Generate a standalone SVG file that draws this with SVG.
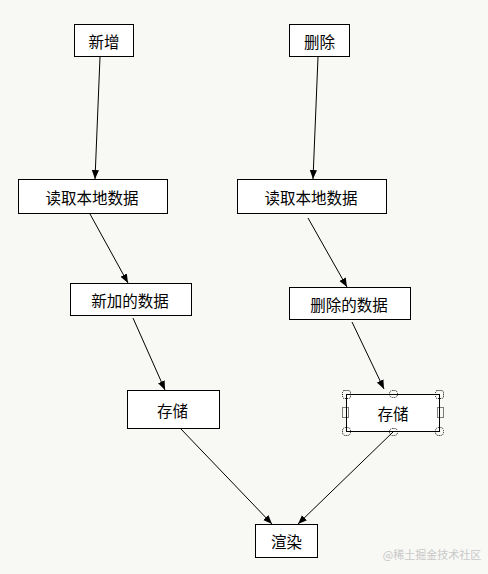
<svg xmlns="http://www.w3.org/2000/svg" width="488" height="574" viewBox="0 0 488 574">
<style>
.n rect{fill:#fff;stroke:#000;stroke-width:1}
.n text{font-family:"Noto Sans CJK SC","Noto Sans",sans-serif;font-size:15.5px;fill:#000;text-anchor:middle;dominant-baseline:central}
.c line{stroke:#000;stroke-width:1;marker-end:url(#a)}
.h rect{fill:none;stroke:#000;stroke-width:1;stroke-dasharray:1 1}
</style>
<defs>
<marker id="a" viewBox="0 0 10 10" refX="10" refY="5" markerWidth="9" markerHeight="9" markerUnits="userSpaceOnUse" orient="auto"><path d="M0,1 L10,5 L0,9 z" fill="#000"/></marker>
</defs>
<rect width="488" height="574" fill="#f8f8f5"/>
<g class="c">
<line x1="100" y1="57" x2="95" y2="179"/>
<line x1="318" y1="57" x2="313" y2="179"/>
<line x1="90" y1="214" x2="128" y2="283"/>
<line x1="308" y1="218" x2="347" y2="287"/>
<line x1="133" y1="318" x2="165" y2="390"/>
<line x1="352" y1="322" x2="384" y2="389"/>
<line x1="180" y1="428" x2="272" y2="524"/>
<line x1="393" y1="432" x2="298" y2="524"/>
</g>
<g id="n1" class="n"><rect x="74.5" y="24.5" width="59" height="32"/><text x="104" y="40.5">新增</text></g>
<g id="n2" class="n"><rect x="289.5" y="24.5" width="60" height="32"/><text x="319.5" y="40.5">删除</text></g>
<g id="n3" class="n"><rect x="18.5" y="179.5" width="149" height="34"/><text x="92" y="196.5">读取本地数据</text></g>
<g id="n4" class="n"><rect x="237.5" y="179.5" width="149" height="34"/><text x="311" y="196.5">读取本地数据</text></g>
<g id="n5" class="n"><rect x="70.5" y="283.5" width="121" height="32"/><text x="130" y="299.5">新加的数据</text></g>
<g id="n6" class="n"><rect x="289.5" y="287.5" width="121" height="32"/><text x="349" y="303.5">删除的数据</text></g>
<g id="n7" class="n"><rect x="127.5" y="390.5" width="92" height="38"/><text x="172.5" y="409.5">存储</text></g>
<g id="n8" class="n"><rect x="346.5" y="394.5" width="93" height="37"/><text x="393" y="413">存储</text></g>
<g id="n9" class="n"><rect x="255.5" y="524.5" width="62" height="33"/><text x="286.5" y="541">渲染</text></g>
<g id="sel" class="h">
<rect x="342.5" y="390.5" width="8" height="8" rx="2"/>
<rect x="389.5" y="390.5" width="8" height="7" rx="3"/>
<rect x="435.5" y="390.5" width="8" height="8" rx="2"/>
<rect x="342.5" y="407.5" width="6" height="10"/>
<rect x="437.5" y="407.5" width="6" height="10"/>
<rect x="342.5" y="427.5" width="8" height="8" rx="3"/>
<rect x="389.5" y="428.5" width="8" height="7" rx="3"/>
<rect x="435.5" y="427.5" width="8" height="8" rx="3"/>
</g>
<text x="432" y="554" style="font-family:'Noto Sans CJK SC',sans-serif;font-size:11px;fill:#c8c8c8;text-anchor:middle;dominant-baseline:central">@稀土掘金技术社区</text>
</svg>
